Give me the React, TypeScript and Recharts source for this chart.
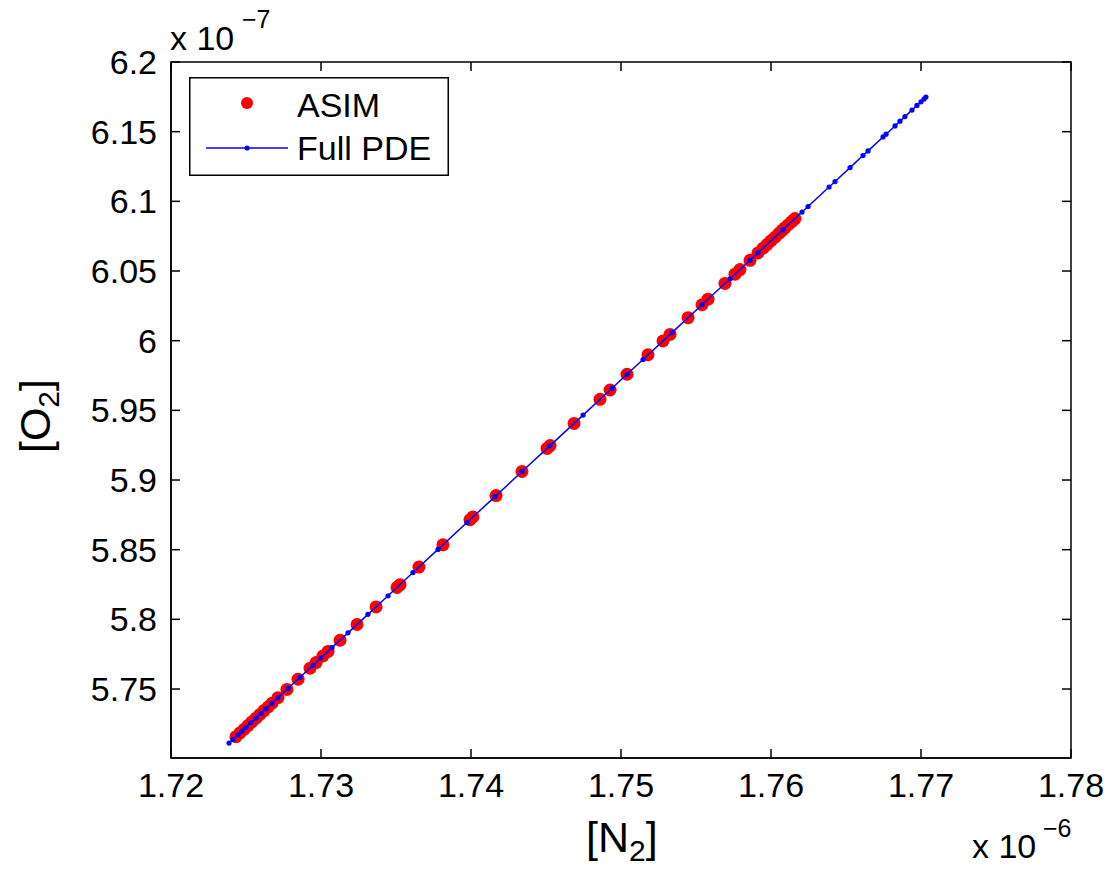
import React from 'react';
import { ScatterChart, Scatter, XAxis, YAxis, Legend, ReferenceArea, ReferenceLine } from 'recharts';

// values are in units of 1e-6 ([N2]) and 1e-7 ([O2])
const asimN2 = [
  1.72433, 1.7246, 1.72487, 1.72513, 1.7254, 1.72567, 1.72593, 1.7262, 1.72647, 1.72673,
  1.72713, 1.72773, 1.72847, 1.72927, 1.72967, 1.73013, 1.73047, 1.73127, 1.7324, 1.73367,
  1.73507, 1.73527, 1.73653, 1.73813, 1.73993, 1.74013, 1.74167, 1.7434, 1.74507, 1.74527,
  1.74687, 1.7486, 1.74927, 1.7504, 1.7518, 1.7528, 1.75327, 1.75447, 1.7554, 1.7558,
  1.75693, 1.7576, 1.75793, 1.7586, 1.75913, 1.75947, 1.75973, 1.76, 1.76027, 1.76053,
  1.76073, 1.76093, 1.76113, 1.76133, 1.76147, 1.7616,
];
const asimO2 = [
  5.7158, 5.7185, 5.7211, 5.7238, 5.7265, 5.7291, 5.7318, 5.7345, 5.7371, 5.7398,
  5.7438, 5.7497, 5.7571, 5.765, 5.769, 5.7737, 5.777, 5.785, 5.7963, 5.8089,
  5.8229, 5.8249, 5.8375, 5.8535, 5.8715, 5.8735, 5.8888, 5.9061, 5.9227, 5.9247,
  5.9406, 5.9579, 5.9646, 5.9759, 5.9899, 5.9998, 6.0045, 6.0165, 6.0258, 6.0298,
  6.0411, 6.0477, 6.051, 6.0577, 6.063, 6.0664, 6.069, 6.0717, 6.0743, 6.077,
  6.079, 6.081, 6.083, 6.085, 6.0863, 6.0876,
];

const pdeN2 = [
  1.72387, 1.72413, 1.72447, 1.72473, 1.725, 1.72533, 1.72567, 1.726, 1.72633, 1.72673,
  1.72713, 1.7278, 1.7286, 1.72947, 1.73, 1.73073, 1.7318, 1.73313, 1.73447, 1.73613,
  1.7378, 1.73973, 1.7416, 1.7434, 1.74527, 1.74747, 1.7494, 1.7504, 1.75147, 1.7534,
  1.7554, 1.75727, 1.7586, 1.75913, 1.7608, 1.76207, 1.76247, 1.76387, 1.76427, 1.76527,
  1.76613, 1.76647, 1.76747, 1.76767, 1.76827, 1.7686, 1.76893, 1.7694, 1.76973, 1.77,
  1.7702, 1.77033,
];
const pdeO2 = [
  5.7112, 5.7138, 5.7172, 5.7198, 5.7225, 5.7258, 5.7291, 5.7325, 5.7358, 5.7398,
  5.7438, 5.7504, 5.7584, 5.767, 5.7724, 5.7797, 5.7903, 5.8036, 5.8169, 5.8336,
  5.8502, 5.8695, 5.8881, 5.9061, 5.9247, 5.9466, 5.9659, 5.9759, 5.9865, 6.0058,
  6.0258, 6.0444, 6.0577, 6.063, 6.0797, 6.0923, 6.0963, 6.1103, 6.1142, 6.1242,
  6.1329, 6.1362, 6.1462, 6.1482, 6.1541, 6.1575, 6.1608, 6.1655, 6.1688, 6.1714,
  6.1734, 6.1748,
];

const n2Ticks = [1.72, 1.73, 1.74, 1.75, 1.76, 1.77, 1.78];
const o2Ticks = [5.75, 5.8, 5.85, 5.9, 5.95, 6, 6.05, 6.1, 6.15, 6.2];

const N2_MIN = 1.72;
const N2_MAX = 1.78;
const O2_MIN = 5.7005;
const O2_MAX = 6.2;

// inward tick length (~9px) expressed in axis units
const N2_TICK = 0.0006;
const O2_TICK = 0.0065;

const asimData = asimN2.map((x, i) => ({ x, y: asimO2[i] }));
const pdeData = pdeN2.map((x, i) => ({ x, y: pdeO2[i] }));

const FONT = '"Liberation Sans", Arial, Helvetica, sans-serif';
const fmt = (v: number) => String(Number(v.toFixed(2)));

const RedDot = (p: any) => <circle cx={p.cx} cy={p.cy} r={6.5} fill="#ff0000" />;
const BlueDot = (p: any) => <circle cx={p.cx} cy={p.cy} r={2.6} fill="#0000ff" />;

const LegendBox = () => (
  <svg width={260} height={99} style={{ display: 'block' }}>
    <rect x={0.75} y={0.75} width={258.5} height={97.5} fill="#fff" stroke="#000" strokeWidth={1.5} />
    <circle cx={58} cy={26} r={6} fill="#ff0000" />
    <text x={108} y={40} fontFamily={FONT} fontSize={34} fill="#000">ASIM</text>
    <line x1={17} x2={99} y1={71} y2={71} stroke="#0000ff" strokeWidth={1.5} />
    <circle cx={58} cy={71} r={2.6} fill="#0000ff" />
    <text x={108} y={83} fontFamily={FONT} fontSize={34} fill="#000">Full PDE</text>
  </svg>
);

const tickStyle = { fill: '#000', fontSize: 34, fontFamily: FONT };
const axisLine = { stroke: '#000', strokeWidth: 1.5 };
const tickMark = { stroke: '#000', strokeWidth: 1.5, ifOverflow: 'visible' as const };

export default function App() {
  return (
    <div style={{ position: 'absolute', left: 0, top: 0, width: 1109, height: 875, background: '#fff' }}>
      <ScatterChart
        width={1109}
        height={875}
        margin={{ top: 62, right: 38, bottom: 77, left: 91 }}
      >
        <XAxis
          type="number"
          dataKey="x"
          domain={[N2_MIN, N2_MAX]}
          ticks={n2Ticks}
          allowDataOverflow
          height={40}
          tickSize={6}
          tickMargin={9}
          tickFormatter={fmt}
          tick={tickStyle}
          axisLine={axisLine}
          tickLine={false}
        />
        <YAxis
          type="number"
          dataKey="y"
          domain={[O2_MIN, O2_MAX]}
          ticks={o2Ticks}
          allowDataOverflow
          width={80}
          tickSize={6}
          tickMargin={8}
          tickFormatter={fmt}
          tick={tickStyle}
          axisLine={axisLine}
          tickLine={false}
        />
        <ReferenceArea
          x1={N2_MIN}
          x2={N2_MAX}
          y1={O2_MIN}
          y2={O2_MAX}
          fill="none"
          fillOpacity={0}
          stroke="#000"
          strokeWidth={1.5}
          ifOverflow="visible"
        />
        {n2Ticks.map((t) => (
          <ReferenceLine key={`b${t}`} segment={[{ x: t, y: O2_MIN }, { x: t, y: O2_MIN + O2_TICK }]} {...tickMark} />
        ))}
        {n2Ticks.map((t) => (
          <ReferenceLine key={`t${t}`} segment={[{ x: t, y: O2_MAX }, { x: t, y: O2_MAX - O2_TICK }]} {...tickMark} />
        ))}
        {o2Ticks.map((t) => (
          <ReferenceLine key={`l${t}`} segment={[{ x: N2_MIN, y: t }, { x: N2_MIN + N2_TICK, y: t }]} {...tickMark} />
        ))}
        {o2Ticks.map((t) => (
          <ReferenceLine key={`r${t}`} segment={[{ x: N2_MAX, y: t }, { x: N2_MAX - N2_TICK, y: t }]} {...tickMark} />
        ))}
        <Legend
          layout="vertical"
          align="center"
          verticalAlign="middle"
          wrapperStyle={{ left: 189, top: 77, width: 260, height: 99 }}
          content={() => <LegendBox />}
        />
        <Scatter
          name="ASIM"
          data={asimData}
          fill="#ff0000"
          shape={RedDot}
          isAnimationActive={false}
        />
        <Scatter
          name="Full PDE"
          data={pdeData}
          fill="#0000ff"
          line={{ stroke: '#0000ff', strokeWidth: 1.5 }}
          shape={BlueDot}
          isAnimationActive={false}
        />
      </ScatterChart>
      <svg
        width={1109}
        height={875}
        style={{ position: 'absolute', left: 0, top: 0, pointerEvents: 'none' }}
      >
        <text x={170} y={50} fontFamily={FONT} fontSize={34} fill="#000">x 10</text>
        <text x={242} y={28} fontFamily={FONT} fontSize={25} fill="#000">−7</text>
        <text x={972} y={858} fontFamily={FONT} fontSize={34} fill="#000">x 10</text>
        <text x={1043} y={837} fontFamily={FONT} fontSize={25} fill="#000">−6</text>
        <text x={586} y={852} fontFamily={FONT} fontSize={43} fill="#000">
          [N<tspan dy={9} fontSize={30}>2</tspan><tspan dy={-9}>]</tspan>
        </text>
        <text
          x={50}
          y={416}
          transform="rotate(-90 50 416)"
          textAnchor="middle"
          fontFamily={FONT}
          fontSize={43}
          fill="#000"
        >
          [O<tspan dy={9} fontSize={30}>2</tspan><tspan dy={-9}>]</tspan>
        </text>
      </svg>
    </div>
  );
}
